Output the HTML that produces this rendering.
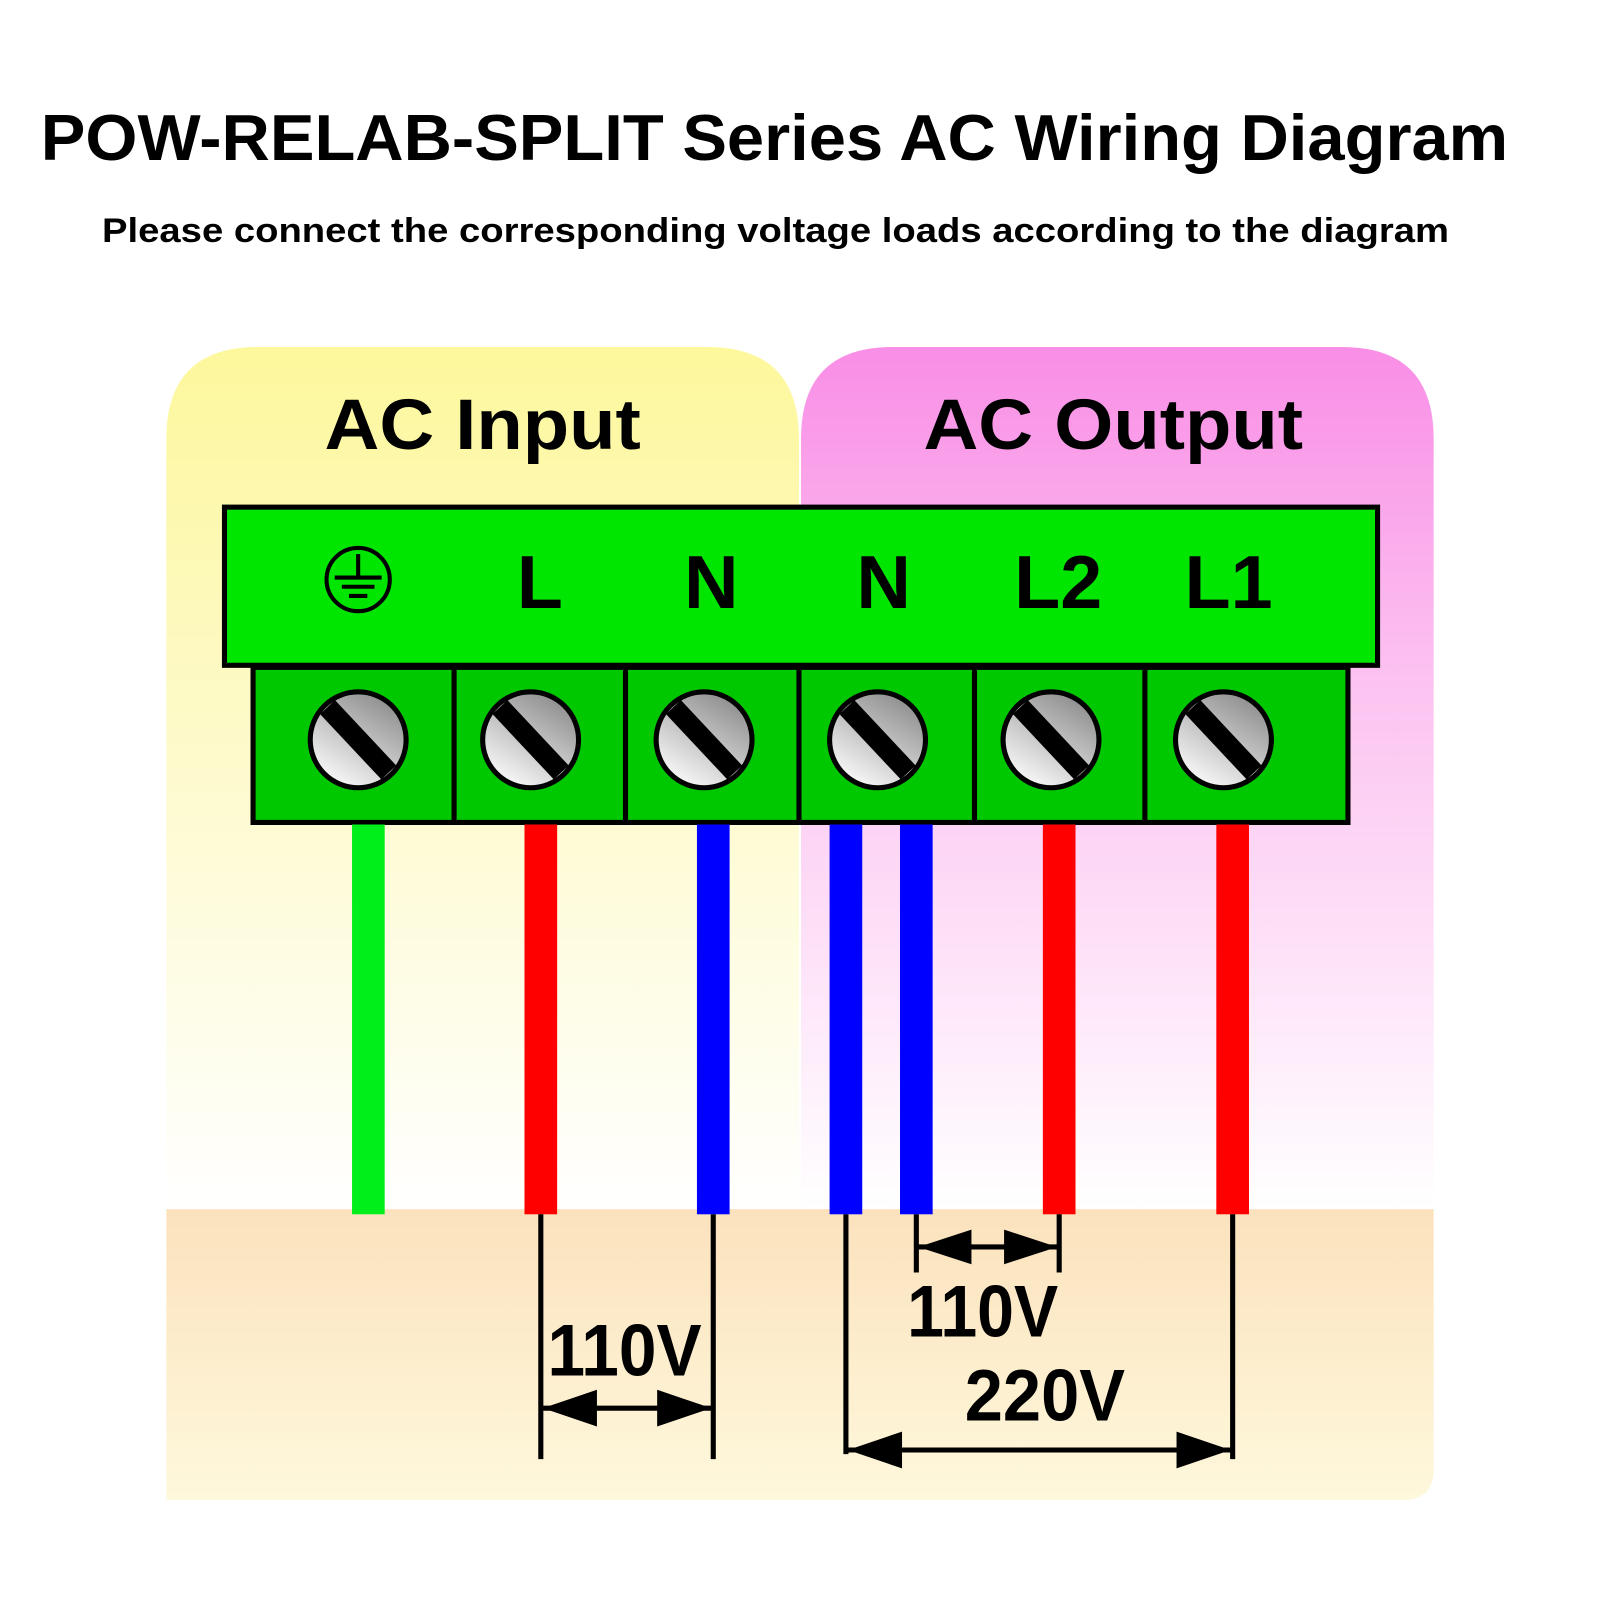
<!DOCTYPE html>
<html><head><meta charset="utf-8"><style>
html,body{margin:0;padding:0;background:#fff;width:1600px;height:1600px;overflow:hidden}
svg{display:block}
text{font-family:"Liberation Sans",Arial,sans-serif;font-weight:bold;fill:#000}
</style></head><body>
<svg width="1600" height="1600" viewBox="0 0 1568 1568" xmlns="http://www.w3.org/2000/svg">
<defs>
<linearGradient id="gy" x1="0" y1="0" x2="0" y2="1">
<stop offset="0" stop-color="#fdf89c"/><stop offset="0.35" stop-color="#fdf9c0"/><stop offset="1" stop-color="#ffffff"/></linearGradient>
<linearGradient id="gp" x1="0" y1="0" x2="0" y2="1">
<stop offset="0" stop-color="#f98ee6"/><stop offset="0.4" stop-color="#fcc4f1"/><stop offset="1" stop-color="#ffffff"/></linearGradient>
<linearGradient id="gb" x1="0" y1="0" x2="0" y2="1">
<stop offset="0" stop-color="#fbe2bd"/><stop offset="1" stop-color="#fef8dc"/></linearGradient>
<linearGradient id="gs" x1="0.2" y1="1" x2="0.8" y2="0">
<stop offset="0" stop-color="#ffffff"/><stop offset="1" stop-color="#888"/></linearGradient>
<g id="screw">
<circle r="47" fill="url(#gs)" stroke="#000" stroke-width="5"/>
<line x1="-30" y1="-32" x2="30" y2="32" stroke="#000" stroke-width="20"/>
</g>
</defs>
<text x="759" y="157" font-size="64" text-anchor="middle" textLength="1438" lengthAdjust="spacingAndGlyphs">POW-RELAB-SPLIT Series AC Wiring Diagram</text>
<text x="760" y="237" font-size="34" text-anchor="middle" textLength="1320" lengthAdjust="spacingAndGlyphs">Please connect the corresponding voltage loads according to the diagram</text>

<path d="M163 1185 V430 Q163 340 253 340 H693 Q783 340 783 430 V1185 Z" fill="url(#gy)"/>
<path d="M785 1185 V430 Q785 340 875 340 H1315 Q1405 340 1405 430 V1185 Z" fill="url(#gp)"/>
<path d="M163 1185 H1405 V1440 Q1405 1470 1375 1470 H163 Z" fill="url(#gb)"/>

<text x="473" y="440" font-size="70" text-anchor="middle" textLength="310" lengthAdjust="spacingAndGlyphs">AC Input</text>
<text x="1091" y="440" font-size="70" text-anchor="middle" textLength="372" lengthAdjust="spacingAndGlyphs">AC Output</text>

<rect x="220" y="497" width="1130" height="155" fill="#00e600" stroke="#000" stroke-width="5"/>
<rect x="248" y="654" width="1073" height="152" fill="#00c800" stroke="#000" stroke-width="5"/>
<g stroke="#000" stroke-width="5">
<line x1="445" y1="654" x2="445" y2="806"/><line x1="613" y1="654" x2="613" y2="806"/>
<line x1="783" y1="654" x2="783" y2="806"/><line x1="955" y1="654" x2="955" y2="806"/>
<line x1="1122" y1="654" x2="1122" y2="806"/>
</g>
<g font-size="74" text-anchor="middle">
<text x="529" y="596">L</text><text x="697" y="596">N</text><text x="866" y="596">N</text>
<text x="1037" y="596">L2</text><text x="1204" y="596">L1</text>
</g>
<g stroke="#000" stroke-width="4" fill="none">
<circle cx="351" cy="568" r="31"/>
<line x1="351" y1="543" x2="351" y2="565"/>
<line x1="328" y1="566" x2="374" y2="566"/>
<line x1="335" y1="575" x2="367" y2="575"/>
<line x1="342" y1="584" x2="360" y2="584"/>
</g>
<use href="#screw" x="351" y="725"/><use href="#screw" x="520" y="725"/>
<use href="#screw" x="690" y="725"/><use href="#screw" x="860" y="725"/>
<use href="#screw" x="1030" y="725"/><use href="#screw" x="1199" y="725"/>

<rect x="345" y="808" width="32" height="382" fill="#00ee1a"/>
<rect x="514" y="808" width="32" height="382" fill="#ff0000"/>
<rect x="683" y="808" width="32" height="382" fill="#0000ff"/>
<rect x="813" y="808" width="32" height="382" fill="#0000ff"/>
<rect x="882" y="808" width="32" height="382" fill="#0000ff"/>
<rect x="1022" y="808" width="32" height="382" fill="#ff0000"/>
<rect x="1192" y="808" width="32" height="382" fill="#ff0000"/>

<g stroke="#000" stroke-width="5">
<line x1="530" y1="1190" x2="530" y2="1430"/>
<line x1="699" y1="1190" x2="699" y2="1430"/>
<line x1="829" y1="1190" x2="829" y2="1425"/>
<line x1="898" y1="1190" x2="898" y2="1247"/>
<line x1="1038" y1="1190" x2="1038" y2="1247"/>
<line x1="1208" y1="1190" x2="1208" y2="1430"/>
<line x1="530" y1="1380" x2="699" y2="1380"/>
<line x1="898" y1="1222" x2="1038" y2="1222"/>
<line x1="829" y1="1421" x2="1208" y2="1421"/>
</g>
<g fill="#000">
<polygon points="532,1380 585,1362 585,1398"/><polygon points="697,1380 644,1362 644,1398"/>
<polygon points="900,1222 952,1205 952,1239"/><polygon points="1036,1222 984,1205 984,1239"/>
<polygon points="831,1421 884,1403 884,1439"/><polygon points="1206,1421 1153,1403 1153,1439"/>
</g>
<text x="612" y="1348" font-size="72" text-anchor="middle" textLength="151" lengthAdjust="spacingAndGlyphs">110V</text>
<text x="963" y="1310" font-size="72" text-anchor="middle" textLength="148" lengthAdjust="spacingAndGlyphs">110V</text>
<text x="1024" y="1392" font-size="72" text-anchor="middle" textLength="157" lengthAdjust="spacingAndGlyphs">220V</text>
</svg>
</body></html>
